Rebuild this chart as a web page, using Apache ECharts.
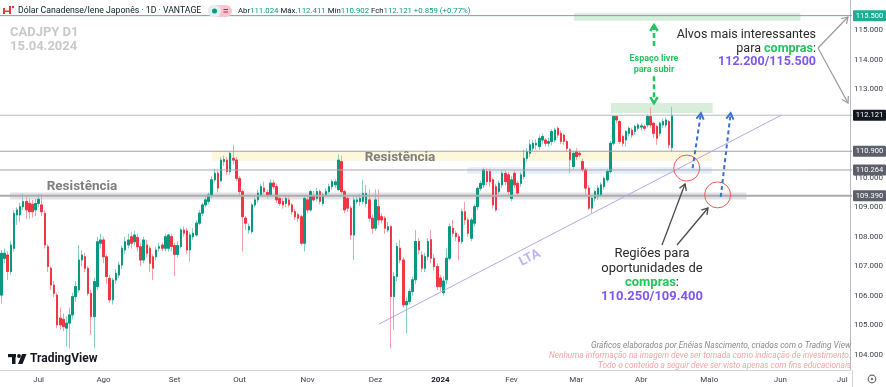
<!DOCTYPE html>
<html><head><meta charset="utf-8">
<script src="https://cdn.jsdelivr.net/npm/echarts@6/dist/echarts.min.js"></script>
<style>html,body{margin:0;padding:0;background:#fff}#c{width:886px;height:387px}</style>
</head><body><div id="c"></div>
<script>
// ---- data: daily candles [open, close, low, high] ----
const segJunAug = [
[106.02,107.44,105.74,107.55],[107.27,107.44,107.10,107.60],[107.38,106.82,106.53,107.50],[106.82,107.72,106.70,107.85],
[107.61,108.79,107.50,108.90],[108.74,108.91,108.40,109.00],[108.74,109.02,108.50,109.15],[109.02,109.19,108.90,109.47],
[109.19,108.91,108.60,109.40],[109.13,108.85,108.60,109.30],[109.10,108.85,108.65,109.25],[108.91,109.13,108.70,109.30],
[109.13,109.27,109.00,109.45],[109.08,108.85,108.70,109.45],[108.79,107.72,107.60,108.90],[107.66,106.99,106.80,107.75],
[106.93,106.36,106.20,107.00],[106.36,106.08,105.95,106.50],[106.02,105.01,104.90,106.10],[105.24,105.01,104.85,105.60],
[105.20,104.95,104.80,105.40],[104.90,105.07,104.27,105.30],[105.07,105.35,104.22,105.60],[105.35,105.97,105.20,106.10],
[105.97,106.31,105.80,106.50],[106.20,107.21,106.10,107.72],[107.21,107.38,107.00,107.55],[107.32,106.93,106.80,107.45],
[106.93,106.08,106.00,107.00],[106.08,105.29,104.67,106.20],[105.29,106.48,104.22,106.60],[106.31,107.83,106.20,108.00],
[107.78,107.89,107.60,108.10],[107.89,107.32,107.10,108.00],[107.32,106.65,106.40,107.40],[106.59,105.86,105.75,106.70],
[105.86,106.53,105.70,106.60],[106.53,106.76,106.40,106.90],[106.70,107.04,106.60,107.15],[107.04,107.61,106.90,107.70],
[107.55,107.83,107.40,108.00],[107.72,107.89,107.60,108.10],[108.00,107.78,107.60,108.15],[107.83,108.06,107.70,108.20],
[107.98,107.66,107.50,108.10],[107.66,107.21,107.00,107.80],[107.21,107.89,107.10,108.00],[107.72,107.44,107.30,107.90],
[107.61,107.10,106.80,107.70],[107.32,106.93,106.53,107.40],[107.32,107.55,107.20,107.65],[107.61,107.66,107.50,107.80],
[107.72,107.61,107.50,107.80],[107.61,108.00,107.50,108.10]
];
const segSepNov = [
[107.61,108.06,107.50,108.10],[108.00,107.67,107.50,108.10],[107.70,107.40,106.67,107.80],[107.40,107.70,107.30,107.85],
[107.67,108.23,107.60,108.30],[108.23,108.12,108.00,108.35],[108.20,107.55,107.40,108.30],[107.55,108.06,107.16,108.15],
[108.00,108.12,107.90,108.30],[108.06,108.46,108.00,108.55],[108.46,108.80,108.40,108.90],[108.80,109.08,108.70,109.15],
[109.08,109.25,109.00,109.35],[109.20,109.42,109.10,109.50],[109.42,109.93,109.30,110.05],[109.93,110.15,109.85,110.30],
[110.15,109.65,109.50,110.25],[109.90,110.60,109.85,110.70],[110.55,110.62,110.40,110.75],[110.60,110.21,110.10,110.70],
[110.21,110.83,110.10,110.90],[110.66,110.60,110.45,111.11],[110.60,109.98,109.90,110.70],[109.98,109.53,109.40,110.05],
[109.53,108.68,107.50,109.60],[108.63,108.46,108.23,108.70],[108.23,108.35,108.10,108.45],[108.17,109.08,108.10,109.15],
[109.08,109.25,109.00,109.35],[109.25,109.48,109.15,109.60],[109.42,109.70,109.35,109.80],[109.65,109.53,109.45,109.87],
[109.50,109.40,109.30,109.60],[109.42,109.82,109.35,109.95],[109.82,109.70,109.60,109.93],[109.70,109.25,109.15,109.80],
[109.30,109.13,109.05,109.40],[109.20,109.08,108.95,109.30],[109.13,109.30,109.00,109.40],[109.25,109.08,109.00,109.35],
[109.08,108.85,108.75,109.15],[108.85,108.68,108.57,108.95],[108.75,108.63,108.50,108.80],[108.68,107.78,107.70,108.75],
[107.78,109.30,107.50,109.40],[109.25,108.91,108.80,109.40],[108.91,109.53,108.85,109.60],[109.40,109.25,109.20,109.55],
[109.30,109.53,109.20,109.65],[109.53,109.20,109.10,109.60],[109.13,109.42,109.05,109.50],[109.42,109.53,109.35,109.65],
[109.53,109.70,109.45,109.80],[109.70,109.87,109.60,109.95],[109.76,109.86,109.65,109.95],[109.60,110.60,109.55,110.80]
];
const segNovFeb = [
[110.55,109.53,109.45,110.75],[109.53,108.91,108.80,109.60],[109.30,108.97,108.85,109.40],[108.97,108.06,107.90,109.05],
[108.06,109.25,107.21,109.35],[109.19,109.25,109.10,109.40],[109.19,109.30,109.05,109.45],[109.20,109.47,109.10,109.93],
[109.13,109.47,109.00,109.76],[109.25,108.63,108.50,109.60],[108.63,108.29,108.10,108.75],[108.29,109.25,108.20,109.60],
[109.02,108.57,108.40,109.60],[108.68,108.57,108.45,108.80],[108.63,108.29,108.10,108.70],[108.23,108.34,108.15,108.50],
[108.34,105.97,104.22,108.40],[105.97,106.65,104.84,106.80],[106.65,107.67,106.50,107.80],[107.61,107.21,107.10,107.90],
[107.21,105.69,105.60,107.30],[105.69,105.80,104.73,105.95],[105.80,106.14,105.70,106.25],[106.14,106.54,106.00,106.65],
[106.54,107.84,106.40,108.23],[107.84,107.55,107.40,107.95],[107.38,106.93,106.80,107.50],[106.93,107.33,106.80,107.45],
[107.33,107.84,107.20,107.95],[107.90,107.27,107.10,108.23],[107.27,106.99,106.85,107.40],[106.99,106.31,106.20,107.10],
[106.60,106.31,106.15,106.70],[106.10,106.50,106.00,106.65],[106.54,107.27,106.40,107.60],[107.27,108.34,107.20,108.45],
[108.29,108.12,108.00,108.57],[108.12,108.00,107.85,108.20],[108.00,107.84,107.21,108.10],[107.84,108.85,107.75,108.95],
[108.85,108.57,108.40,109.19],[108.57,108.12,108.00,108.65],[107.95,108.57,107.85,108.65],[108.46,109.02,108.35,109.10],
[109.02,109.64,108.90,109.70],[109.64,109.81,109.55,109.90],[109.76,110.27,109.65,110.35],[110.21,109.87,109.75,110.32],
[110.21,109.87,109.70,110.30],[109.93,109.08,108.95,110.00],[109.70,108.91,108.85,109.80],[109.53,109.81,109.45,109.90],
[109.76,110.15,109.65,110.27],[110.15,109.87,109.75,110.25],[110.10,109.53,109.40,110.20],[109.30,109.93,109.20,110.05]
];
const segFebApr = [
[110.15,109.76,109.65,110.25],[109.81,109.48,109.36,109.90],[109.81,110.10,109.70,110.20],[110.04,110.66,109.95,110.95],
[110.66,110.89,110.55,111.00],[110.83,111.12,110.70,111.30],[111.00,111.17,110.90,111.28],[111.12,111.17,110.95,111.30],
[111.06,111.34,110.95,111.45],[111.28,111.40,111.15,111.50],[111.28,111.17,111.05,111.35],[111.17,111.23,111.05,111.35],
[111.23,111.57,111.10,111.65],[111.28,111.62,111.20,111.70],[111.68,111.45,111.35,111.74],[111.51,111.23,111.15,111.60],
[111.45,111.23,111.12,111.50],[111.23,111.00,110.90,111.30],[110.95,110.61,110.15,111.00],[110.38,110.83,110.30,110.90],
[110.89,110.72,110.60,111.00],[110.83,110.78,110.70,110.90],[110.55,110.27,110.20,110.65],[110.27,109.65,109.42,110.35],
[109.65,108.97,108.90,109.75],[108.97,109.31,108.80,109.40],[109.31,109.53,109.20,109.60],[109.36,109.65,109.25,109.75],
[109.42,109.76,109.35,109.85],[109.70,109.98,109.60,110.05],[109.93,110.21,109.85,110.30],[110.21,111.17,110.15,111.25],
[111.17,112.08,111.10,112.13],[112.08,111.96,111.85,112.13],[111.91,111.23,111.15,111.95],[111.40,111.17,111.05,111.45],
[111.28,111.57,111.06,111.62],[111.51,111.68,111.40,111.74],[111.62,111.45,111.35,111.70],[111.57,111.74,111.45,111.80],
[111.68,111.79,111.60,111.85],[111.72,111.76,111.60,111.85],[111.74,111.68,111.60,111.80],[111.79,112.08,111.70,112.15],
[112.08,111.79,111.70,112.38],[111.85,111.51,111.34,111.90],[111.74,111.34,111.12,111.80],[111.51,111.85,111.40,111.90],
[111.79,111.91,111.70,112.00],[111.79,111.96,111.70,112.05],[111.91,111.12,111.00,111.96],[111.024,112.121,110.902,112.411]
];
const yTickValues = [104,105,106,107,108,109,110,113,114,115];
const priceTags = [115.5, 112.121, 110.9, 110.264, 109.39];
const monthNames = ['Jan','Fev','Mar','Abr','Maio','Jun','Jul','Ago','Set','Out','Nov','Dez'];
const headerParts = [['Abr','l'],['111.024','v'],[' Máx.','l'],['112.411','v'],[' Mín','l'],['110.902','v'],[' Fch','l'],['112.121','v'],[' +0.859 (+0.77%)','v']];
const firstDay = '2023-06-15';
const totalBars = 275;

// ---- build ----
const candles = segJunAug.concat(segSepNov, segNovFeb, segFebApr);
const bodies = candles.map(c => [c[0], c[1], Math.min(c[0], c[1]), Math.max(c[0], c[1])]);
const dates = [];
{
  const d = new Date(firstDay + 'T00:00:00Z');
  while (dates.length < totalBars) {
    const w = d.getUTCDay();
    if (w !== 0 && w !== 6) dates.push(d.toISOString().slice(0, 10));
    d.setUTCDate(d.getUTCDate() + 1);
  }
}
const UP = '#089981', DN = '#F23645';
const FONT = 'Roboto, "Noto Sans", sans-serif';
const chart = echarts.init(document.getElementById('c'), null, {renderer: 'canvas'});
const yMin = 103.48, yMax = 116.03;
chart.setOption({
  animation: false,
  backgroundColor: '#ffffff',
  grid: {left: 0, right: 34, top: 0, bottom: 17, containLabel: false},
  xAxis: {
    type: 'category', data: dates, boundaryGap: true,
    axisLine: {lineStyle: {color: '#d1d4dc'}},
    axisTick: {show: false},
    splitLine: {show: false},
    axisLabel: {
      interval: (i) => i > 0 && dates[i].slice(5, 7) !== dates[i - 1].slice(5, 7),
      formatter: (v) => {
        const m = +v.slice(5, 7);
        return m === 1 ? '{b|' + v.slice(0, 4) + '}' : monthNames[m - 1];
      },
      fontSize: 8, color: '#3b3f4a', margin: 6, fontFamily: FONT,
      rich: {b: {fontWeight: 'bold', fontSize: 8, color: '#131722', fontFamily: FONT}}
    }
  },
  yAxis: {
    type: 'value', position: 'right', min: yMin, max: yMax, scale: true,
    splitLine: {show: false},
    axisLine: {show: true, lineStyle: {color: '#b8bbc4'}},
    axisTick: {show: false},
    axisLabel: {customValues: yTickValues, formatter: (v) => v.toFixed(3),
      fontSize: 8, color: '#3b3f4a', margin: 4, fontFamily: FONT}
  },
  series: [
    {type: 'candlestick', name: 'wick', data: candles, barWidth: 2, z: 2,
      itemStyle: {color: '#86cfc2', color0: '#f59fa7', borderColor: '#86cfc2', borderColor0: '#f59fa7', borderWidth: 1}},
    {type: 'candlestick', name: 'body', data: bodies, barWidth: 2, z: 3,
      itemStyle: {color: UP, color0: DN, borderColor: UP, borderColor0: DN, borderWidth: 1}}
  ]
});

// ---- annotations (in data coordinates: [bar index, price]) ----
const zones = [
  {x0: 185.2, x1: 258.5, p0: 115.33, p1: 115.58, fill: 'rgba(200,232,205,0.75)'},
  {x0: 197.2, x1: 230.1, p0: 112.20, p1: 112.54, fill: 'rgba(200,232,205,0.75)'},
  {x0: 68.0,  x1: 229.8, p0: 110.58, p1: 110.90, fill: 'rgba(253,246,214,0.85)'},
  {x0: 150.7, x1: 229.8, p0: 110.14, p1: 110.36, fill: 'rgba(226,235,248,0.9)'},
  {x0: 2.7,   x1: 241.0, p0: 109.26, p1: 109.50, fill: 'rgba(222,222,224,0.9)'}
];
const hLines = [
  {p: 115.5, c: '#4db6ac', w: 1},
  {p: 112.121, c: '#b7bac2', w: 1},
  {p: 110.9, c: '#9ea1a8', w: 1},
  {p: 110.264, c: '#a2a7b2', w: 1},
  {p: 109.39, c: '#a9abb0', w: 2}
];
const tagColors = ['#22ab94', '#131722', '#5d606b', '#5d606b', '#5d606b'];
const lta = [[122.2, 105.04], [252.4, 112.13]];
const circles = [[221.7, 110.33], [231.7, 109.42]];
const blueArrows = [[[223.6, 110.33], [226.3, 112.19]], [[232.7, 109.35], [235.9, 112.19]]];
const greenArrowX = 211.1, greenArrowTop = 115.18, greenArrowBottom = 112.53;

function P(i, p) {
  const a = chart.convertToPixel({xAxisIndex: 0}, 0);
  const b = chart.convertToPixel({xAxisIndex: 0}, 1);
  return [a + i * (b - a), chart.convertToPixel({yAxisIndex: 0}, p)];
}
function head(from, to, len, color, lw, z) {
  const a = Math.atan2(to[1] - from[1], to[0] - from[0]);
  const s = 0.55;
  return {type: 'polyline', z: z || 20, shape: {points: [
    [to[0] - len * Math.cos(a - s), to[1] - len * Math.sin(a - s)], to,
    [to[0] - len * Math.cos(a + s), to[1] - len * Math.sin(a + s)]]},
    style: {stroke: color, lineWidth: lw, fill: null, lineJoin: 'miter'}};
}
function txt(x, y, text, o) {
  o = o || {};
  return {type: 'text', x: x, y: y, z: o.z || 30, rotation: o.rot || 0,
    style: Object.assign({text: text, fill: o.fill || '#131722', fontSize: o.size || 12,
      fontWeight: o.weight || 'normal', fontStyle: o.style || 'normal', fontFamily: o.family || FONT,
      align: o.align || 'left', textAlign: o.align || 'left',
      verticalAlign: 'middle', textVerticalAlign: 'middle'}, o.extra || {})};
}
const measureCtx = document.createElement('canvas').getContext('2d');
function textWidth(t, size, weight) {
  measureCtx.font = (weight || 'normal') + ' ' + size + 'px ' + FONT;
  return measureCtx.measureText(t).width;
}

const W = 852;
const g = [];
zones.forEach(z => {
  const a = P(z.x0, z.p1), b = P(z.x1, z.p0);
  g.push({type: 'rect', z: 1, shape: {x: a[0], y: a[1], width: b[0] - a[0], height: b[1] - a[1]}, style: {fill: z.fill}});
});
hLines.forEach(h => {
  const y = P(0, h.p)[1];
  g.push({type: 'line', z: 4, shape: {x1: 0, y1: y, x2: W, y2: y}, style: {stroke: h.c, lineWidth: h.w}});
});
// trend line (LTA)
{
  const a = P(lta[0][0], lta[0][1]), b = P(lta[1][0], lta[1][1]);
  g.push({type: 'line', z: 5, shape: {x1: a[0], y1: a[1], x2: b[0], y2: b[1]}, style: {stroke: '#b9a6ea', lineWidth: 1}});
  const ang = Math.atan2(a[1] - b[1], b[0] - a[0]);
  g.push(txt(530, 258, 'LTA', {size: 13, weight: 'bold', fill: '#c3b2f1', align: 'center', rot: ang}));
}
// circles
circles.forEach(c => {
  const p = P(c[0], c[1]);
  g.push({type: 'circle', z: 20, shape: {cx: p[0], cy: p[1], r: 13}, style: {stroke: '#f05a5a', lineWidth: 1, fill: null}});
});
// blue dashed arrows
blueArrows.forEach(ar => {
  const a = P(ar[0][0], ar[0][1]), b = P(ar[1][0], ar[1][1]);
  g.push({type: 'line', z: 21, shape: {x1: a[0], y1: a[1], x2: b[0], y2: b[1]}, style: {stroke: '#3d6fcf', lineWidth: 2, lineDash: [4, 3]}});
  g.push(head(a, b, 7, '#3d6fcf', 2, 21));
});
// green double arrow
{
  const t = P(greenArrowX, greenArrowTop), b = P(greenArrowX, greenArrowBottom);
  const c = '#22c55e';
  g.push({type: 'line', z: 21, shape: {x1: t[0], y1: t[1], x2: t[0], y2: t[1] + 23}, style: {stroke: c, lineWidth: 2.5, lineDash: [5, 3]}});
  g.push({type: 'line', z: 21, shape: {x1: b[0], y1: b[1] - 27, x2: b[0], y2: b[1]}, style: {stroke: c, lineWidth: 2.5, lineDash: [5, 3]}});
  g.push(head([t[0], t[1] + 20], t, 7, c, 2.5, 21));
  g.push(head([b[0], b[1] - 20], b, 7, c, 2.5, 21));
  g.push(txt(t[0], 59, 'Espaço livre', {size: 9, weight: 'bold', fill: c, align: 'center'}));
  g.push(txt(t[0], 70, 'para subir', {size: 9, weight: 'bold', fill: c, align: 'center'}));
}
// gray pointer arrows
[[[662, 245], [685, 184]], [[677, 245], [708, 208]]].forEach(ar => {
  g.push({type: 'line', z: 21, shape: {x1: ar[0][0], y1: ar[0][1], x2: ar[1][0], y2: ar[1][1]}, style: {stroke: '#4a4a4a', lineWidth: 1.3}});
  g.push(head(ar[0], ar[1], 7, '#4a4a4a', 1.3, 21));
});
[[[818, 48], [848, 17]], [[818, 48], [848, 103]]].forEach(ar => {
  g.push({type: 'line', z: 21, shape: {x1: ar[0][0], y1: ar[0][1], x2: ar[1][0], y2: ar[1][1]}, style: {stroke: '#9a9a9a', lineWidth: 1.2}});
  g.push(head(ar[0], ar[1], 7, '#9a9a9a', 1.2, 21));
});
// texts
g.push(txt(400, 158, 'Resistência', {size: 13.5, weight: 'bold', fill: '#7f7f7f', align: 'center'}));
g.push(txt(82, 187, 'Resistência', {size: 13.5, weight: 'bold', fill: '#7f7f7f', align: 'center'}));
g.push(txt(816, 35, 'Alvos mais interessantes', {size: 12.5, fill: '#2a2a2a', align: 'right'}));
g.push(txt(816, 49, 'para {g|compras}:', {size: 12.5, fill: '#2a2a2a', align: 'right',
  extra: {rich: {g: {fill: '#22c55e', fontWeight: 'bold', fontSize: 12.5, fontFamily: FONT}}}}));
g.push(txt(816, 62, '112.200/115.500', {size: 12.5, weight: 'bold', fill: '#7e57f2', align: 'right'}));
g.push(txt(652, 254, 'Regiões para', {size: 13, fill: '#2a2a2a', align: 'center'}));
g.push(txt(652, 269, 'oportunidades de', {size: 13, fill: '#2a2a2a', align: 'center'}));
g.push(txt(652, 283, '{g|compras}:', {size: 13, fill: '#2a2a2a', align: 'center',
  extra: {rich: {g: {fill: '#22c55e', fontWeight: 'bold', fontSize: 13, fontFamily: FONT}}}}));
g.push(txt(652, 297, '110.250/109.400', {size: 13, weight: 'bold', fill: '#7e57f2', align: 'center'}));
// watermark
g.push(txt(10, 33, 'CADJPY D1', {size: 13, weight: 'bold', fill: '#c9c9c9'}));
g.push(txt(10, 47, '15.04.2024', {size: 13, weight: 'bold', fill: '#c9c9c9'}));
// footnotes
g.push(txt(851, 346, 'Gráficos elaborados por Enéias Nascimento, criados com o Trading View', {size: 8.3, style: 'italic', fill: '#8a8a8a', align: 'right'}));
g.push(txt(851, 356, 'Nenhuma informação na imagem deve ser tomada como indicação de investimento.', {size: 8.3, style: 'italic', fill: '#f7a4a4', align: 'right'}));
g.push(txt(851, 366, 'Todo o conteúdo a seguir deve ser visto apenas com fins educacionais', {size: 8.3, style: 'italic', fill: '#f7a4a4', align: 'right'}));
// header
g.push({type: 'rect', z: 30, shape: {x: 3, y: 8, width: 2, height: 6}, style: {fill: '#e53935'}});
g.push({type: 'rect', z: 30, shape: {x: 5, y: 10.5, width: 4, height: 1.5}, style: {fill: '#e53935'}});
g.push({type: 'rect', z: 30, shape: {x: 9, y: 6, width: 2, height: 8}, style: {fill: '#e53935'}});
g.push({type: 'circle', z: 30, shape: {cx: 13, cy: 7, r: 1.2}, style: {fill: '#e53935'}});
g.push(txt(18, 11, 'Dólar Canadense/Iene Japonês · 1D · VANTAGE', {size: 8.7, fill: '#131722'}));
g.push({type: 'rect', z: 30, shape: {x: 208, y: 5, width: 24, height: 12, r: 6}, style: {fill: '#f9c6cd'}});
g.push({type: 'rect', z: 31, shape: {x: 208, y: 5, width: 13, height: 12, r: 6}, style: {fill: '#dff2ee'}});
g.push({type: 'circle', z: 32, shape: {cx: 214.5, cy: 11, r: 2.5}, style: {fill: '#089981'}});
g.push({type: 'rect', z: 32, shape: {x: 223.5, y: 9, width: 4.5, height: 1}, style: {fill: '#c2185b'}});
g.push({type: 'rect', z: 32, shape: {x: 223.5, y: 11.5, width: 4.5, height: 1}, style: {fill: '#c2185b'}});
{
  let hx = 238;
  const hs = 7.8;
  headerParts.forEach(part => {
    g.push(txt(hx, 11, part[0], {size: hs, fill: part[1] === 'v' ? '#089981' : '#131722'}));
    hx += textWidth(part[0], hs);
  });
}
// price tags on right axis
priceTags.forEach((p, k) => {
  const y = P(0, p)[1];
  g.push({type: 'rect', z: 40, shape: {x: 853, y: y - 5.5, width: 33, height: 11, r: 1}, style: {fill: tagColors[k]}});
  g.push(txt(869.5, y, p.toFixed(3), {size: 7.5, fill: '#ffffff', align: 'center', z: 41}));
});
// TradingView logo
g.push({type: 'rect', z: 30, shape: {x: 8, y: 354, width: 8, height: 3.2}, style: {fill: '#131722'}});
g.push({type: 'rect', z: 30, shape: {x: 12, y: 354, width: 3.5, height: 10}, style: {fill: '#131722'}});
g.push({type: 'circle', z: 30, shape: {cx: 19, cy: 356, r: 1.9}, style: {fill: '#131722'}});
g.push({type: 'polygon', z: 30, shape: {points: [[22, 354], [26.5, 354], [22.5, 364], [18, 364]]}, style: {fill: '#131722'}});
g.push(txt(30, 359, 'TradingView', {size: 12, weight: 'bold', fill: '#131722'}));
// settings icon
g.push({type: 'circle', z: 30, shape: {cx: 872, cy: 379, r: 3.8}, style: {stroke: '#6a6d78', lineWidth: 1.2, fill: null}});
g.push({type: 'circle', z: 30, shape: {cx: 872, cy: 379, r: 1.2}, style: {fill: '#6a6d78'}});
g.push({type: 'line', z: 30, shape: {x1: 852.5, y1: 370, x2: 852.5, y2: 387}, style: {stroke: '#d1d4dc', lineWidth: 1}});

chart.setOption({graphic: {elements: g}});
</script>
</body></html>
